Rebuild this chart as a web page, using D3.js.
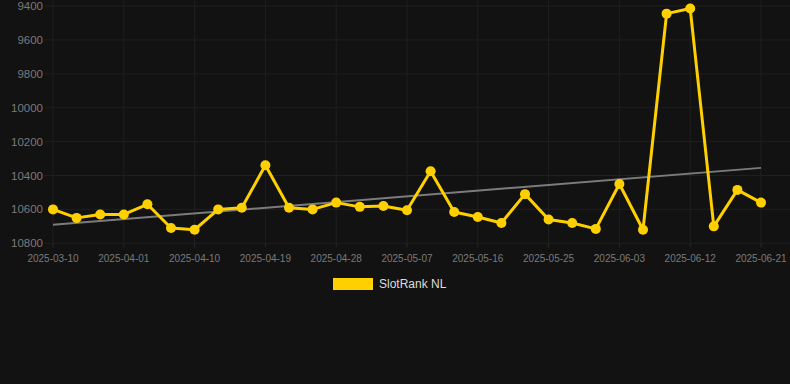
<!DOCTYPE html>
<html lang="en">
<head>
  <meta charset="UTF-8">
  <title>SlotRank NL</title>
  <script src="https://d3js.org/d3.v7.min.js"></script>
  <style>
    html, body { margin: 0; padding: 0; background: #121212; }
    svg { display: block; font-family: Arial, "Liberation Sans", sans-serif; }
  </style>
</head>
<body>
  <svg></svg>
  <script>
  // Daten (Rang-Werte pro Datum)
  const dates = [
    "2025-03-10", "2025-03-20", "2025-03-27", "2025-04-01", "2025-04-04", "2025-04-07",
    "2025-04-10", "2025-04-13", "2025-04-16", "2025-04-19", "2025-04-22", "2025-04-25",
    "2025-04-28", "2025-05-01", "2025-05-04", "2025-05-07", "2025-05-10", "2025-05-13",
    "2025-05-16", "2025-05-19", "2025-05-22", "2025-05-25", "2025-05-28", "2025-05-31",
    "2025-06-03", "2025-06-06", "2025-06-09", "2025-06-12", "2025-06-15", "2025-06-18",
    "2025-06-21"
  ];
  const values = [
    10600, 10650, 10630, 10630, 10570, 10710, 10720, 10600, 10590, 10340,
    10590, 10600, 10560, 10585, 10580, 10605, 10375, 10615, 10645, 10680,
    10510, 10660, 10680, 10715, 10450, 10720, 9445, 9415, 10700, 10485,
    10560
  ];
  const yTicks = [9400, 9600, 9800, 10000, 10200, 10400, 10600, 10800];
  const seriesName = "SlotRank NL";

  const width = 790, height = 384;
  const svg = d3.select("svg").attr("width", width).attr("height", height);

  svg.append("rect").attr("width", width).attr("height", height).attr("fill", "#121212");

  const x = d3.scalePoint().domain(dates).range([53, 761]);
  const y = d3.scaleLinear().domain([9400, 10800]).range([6, 243.3]);

  const gridColor = "#1f1f1f";
  const labelColor = "#7a7a7a";

  // horizontale Gitterlinien
  svg.append("g").selectAll("line").data(yTicks).join("line")
    .attr("x1", 45).attr("x2", width)
    .attr("y1", d => y(d)).attr("y2", d => y(d))
    .attr("stroke", gridColor).attr("stroke-width", 1);

  // jede dritte Kategorie beschriftet
  const xTicks = dates.filter((d, i) => i % 3 === 0);
  svg.append("g").selectAll("line").data(xTicks).join("line")
    .attr("x1", d => x(d)).attr("x2", d => x(d))
    .attr("y1", 0).attr("y2", y(10800))
    .attr("stroke", gridColor).attr("stroke-width", 1);

  // y-Achse
  svg.append("g").selectAll("text").data(yTicks).join("text")
    .attr("x", 43).attr("y", d => y(d))
    .attr("dy", "0.35em")
    .attr("text-anchor", "end")
    .attr("fill", labelColor)
    .attr("font-size", "11.5px")
    .text(d => d);

  // x-Achse
  const xAxis = svg.append("g");
  xAxis.selectAll("line").data(xTicks).join("line")
    .attr("x1", d => x(d)).attr("x2", d => x(d))
    .attr("y1", y(10800)).attr("y2", y(10800) + 4)
    .attr("stroke", "#2a2a2a");
  xAxis.selectAll("text").data(xTicks).join("text")
    .attr("x", d => x(d)).attr("y", 262)
    .attr("text-anchor", "middle")
    .attr("fill", labelColor)
    .attr("font-size", "10px")
    .text(d => d);

  // lineare Regression als Trendlinie
  const n = values.length;
  const idx = d3.range(n);
  const mx = d3.mean(idx), my = d3.mean(values);
  const slope = d3.sum(idx, i => (i - mx) * (values[i] - my)) / d3.sum(idx, i => (i - mx) ** 2);
  const icpt = my - slope * mx;
  svg.append("line")
    .attr("x1", x(dates[0])).attr("y1", y(icpt))
    .attr("x2", x(dates[n - 1])).attr("y2", y(icpt + slope * (n - 1)))
    .attr("stroke", "#7c7c7c").attr("stroke-width", 2);

  const yellow = "#ffd000";
  const line = d3.line().x((d, i) => x(dates[i])).y(d => y(d));
  svg.append("path").datum(values)
    .attr("d", line)
    .attr("fill", "none")
    .attr("stroke", yellow)
    .attr("stroke-width", 3)
    .attr("stroke-linejoin", "round");

  svg.append("g").selectAll("circle").data(values).join("circle")
    .attr("cx", (d, i) => x(dates[i]))
    .attr("cy", d => y(d))
    .attr("r", 5)
    .attr("fill", yellow);

  // Legende
  const legend = svg.append("g");
  legend.append("rect").attr("x", 333).attr("y", 278).attr("width", 40).attr("height", 12).attr("fill", yellow);
  legend.append("text").attr("x", 379).attr("y", 284).attr("dy", "0.35em")
    .attr("fill", "#dddddd").attr("font-size", "12px").text(seriesName);
  </script>
</body>
</html>
